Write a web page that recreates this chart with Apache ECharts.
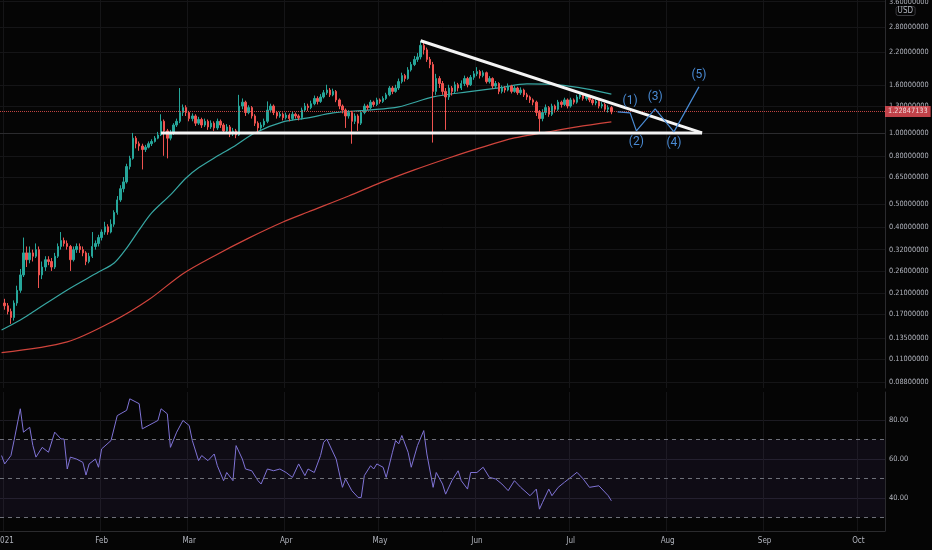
<!DOCTYPE html>
<html><head><meta charset="utf-8">
<script src="https://cdn.jsdelivr.net/npm/echarts@6/dist/echarts.min.js"></script>
<style>html,body{margin:0;padding:0;background:#050505;}#c{width:932px;height:550px;}</style>
</head><body><div id="c"></div>
<script>
// ---------- DATA ----------
const firstDay = '2020-12-31';
const dayCount = 283;
const monthLabels = ['2021','Feb','Mar','Apr','May','Jun','Jul','Aug','Sep','Oct','Nov','Dec'];
const priceTicks = [3.6,2.8,2.2,1.6,1.3,1.0,0.8,0.65,0.5,0.4,0.32,0.26,0.21,0.17,0.135,0.11,0.088];
const priceRange = [0.0829, 3.66];
const rsiTicks = [40,60,80];
const rsiLevels = [70,50,30];
const rsiRange = [23.1, 94.4];
const lastPrice = 1.22847133;
// daily candles from 2021-01-01: [open, close, low, high]
const ohlc = [
[.19,.185,.178,.198],[.185,.175,.17,.19],[.175,.165,.155,.18],[.165,.19,.16,.195],[.19,.215,.185,.225],
[.215,.25,.21,.265],[.25,.31,.245,.36],[.31,.29,.27,.33],[.29,.31,.28,.33],[.31,.30,.285,.32],
[.30,.32,.295,.34],[.32,.25,.22,.33],[.25,.27,.24,.285],[.27,.29,.26,.30],[.29,.285,.275,.30],
[.285,.27,.26,.295],[.27,.30,.265,.31],[.30,.33,.295,.34],[.33,.35,.32,.38],[.35,.34,.33,.36],
[.34,.33,.32,.35],[.33,.29,.26,.335],[.29,.32,.285,.33],[.32,.33,.31,.34],[.33,.32,.31,.34],
[.32,.31,.30,.33],[.31,.285,.275,.315],[.285,.30,.28,.31],[.30,.33,.295,.38],[.33,.34,.32,.35],
[.34,.36,.33,.37],[.36,.38,.35,.39],[.38,.40,.37,.42],[.40,.38,.37,.41],[.38,.41,.375,.43],
[.41,.46,.40,.47],[.46,.52,.45,.54],[.52,.58,.51,.60],[.58,.62,.56,.65],[.62,.72,.61,.74],
[.72,.78,.70,.80],[.78,.95,.77,1.0],[.95,.90,.86,.97],[.90,.88,.84,.92],[.88,.85,.70,.90],
[.85,.87,.83,.89],[.87,.90,.86,.92],[.90,.92,.88,.94],[.92,.95,.91,.97],[.95,.98,.94,1.01],
[.98,1.12,.97,1.20],[1.12,1.02,.80,1.14],[1.02,.95,.78,1.04],[.95,1.0,.93,1.03],[1.0,1.08,.98,1.10],
[1.08,1.12,1.06,1.15],[1.12,1.22,1.10,1.55],[1.22,1.28,1.18,1.32],[1.28,1.22,1.18,1.31],[1.22,1.15,1.12,1.24],
[1.15,1.18,1.12,1.21],[1.18,1.10,1.07,1.20],[1.10,1.14,1.08,1.17],[1.14,1.08,1.05,1.16],[1.08,1.12,1.06,1.15],
[1.12,1.06,1.03,1.14],[1.06,1.10,1.04,1.13],[1.10,1.05,1.02,1.12],[1.05,1.12,1.03,1.15],[1.12,1.08,1.05,1.14],
[1.08,1.02,1.0,1.10],[1.02,1.06,1.0,1.09],[1.06,.99,.96,1.08],[.99,1.02,.97,1.05],[1.02,.98,.95,1.04],
[.98,1.30,.97,1.45],[1.30,1.35,1.26,1.40],[1.35,1.22,1.18,1.37],[1.22,1.28,1.20,1.31],[1.28,1.18,1.15,1.30],
[1.18,1.10,1.07,1.20],[1.10,1.05,1.0,1.12],[1.05,1.08,1.03,1.11],[1.08,1.12,1.06,1.15],[1.12,1.25,1.10,1.36],
[1.25,1.30,1.22,1.33],[1.30,1.22,1.19,1.32],[1.22,1.18,1.15,1.24],[1.18,1.20,1.16,1.23],[1.20,1.16,1.13,1.22],
[1.16,1.19,1.14,1.22],[1.19,1.15,1.12,1.21],[1.15,1.20,1.13,1.23],[1.20,1.18,1.15,1.22],[1.18,1.16,1.13,1.20],
[1.16,1.25,1.14,1.28],[1.25,1.30,1.23,1.34],[1.30,1.28,1.24,1.33],[1.28,1.33,1.26,1.37],[1.33,1.40,1.31,1.44],
[1.40,1.36,1.32,1.43],[1.36,1.42,1.34,1.46],[1.42,1.48,1.40,1.52],[1.48,1.52,1.45,1.60],[1.52,1.45,1.42,1.55],
[1.45,1.50,1.43,1.54],[1.50,1.38,1.35,1.52],[1.38,1.30,1.26,1.40],[1.30,1.25,1.21,1.32],[1.25,1.18,1.05,1.27],
[1.18,1.22,1.15,1.25],[1.22,1.12,.90,1.24],[1.12,1.18,1.09,1.21],[1.18,1.10,1.02,1.20],[1.10,1.22,1.08,1.25],
[1.22,1.30,1.20,1.33],[1.30,1.28,1.25,1.32],[1.28,1.35,1.26,1.38],[1.35,1.32,1.29,1.37],[1.32,1.38,1.30,1.41],
[1.38,1.36,1.33,1.40],[1.36,1.40,1.34,1.43],[1.40,1.45,1.38,1.48],[1.45,1.55,1.43,1.58],[1.55,1.50,1.46,1.58],
[1.50,1.55,1.48,1.60],[1.55,1.65,1.52,1.70],[1.65,1.75,1.62,1.80],[1.75,1.70,1.65,1.78],[1.70,1.85,1.68,1.90],
[1.85,1.95,1.82,2.00],[1.95,2.05,1.92,2.12],[2.05,2.10,2.0,2.18],[2.10,2.35,2.05,2.45],[2.35,2.25,2.15,2.42],
[2.25,2.05,2.0,2.30],[2.05,1.95,1.88,2.10],[1.95,1.50,.91,2.0],[1.50,1.70,1.45,1.78],[1.70,1.62,1.55,1.74],
[1.62,1.50,1.45,1.66],[1.50,1.42,1.03,1.55],[1.42,1.55,1.38,1.60],[1.55,1.50,1.44,1.58],[1.50,1.60,1.47,1.65],
[1.60,1.55,1.50,1.63],[1.55,1.62,1.52,1.67],[1.62,1.70,1.58,1.75],[1.70,1.60,1.56,1.73],[1.60,1.72,1.58,1.76],
[1.72,1.78,1.68,1.83],[1.78,1.82,1.74,1.90],[1.82,1.75,1.70,1.85],[1.75,1.80,1.72,1.84],[1.80,1.65,1.62,1.82],
[1.65,1.70,1.62,1.74],[1.70,1.58,1.54,1.72],[1.58,1.62,1.55,1.66],[1.62,1.50,1.46,1.64],[1.50,1.55,1.47,1.59],
[1.55,1.52,1.48,1.58],[1.52,1.58,1.50,1.62],[1.58,1.50,1.47,1.60],[1.50,1.55,1.48,1.59],[1.55,1.48,1.45,1.57],
[1.48,1.52,1.45,1.56],[1.52,1.45,1.42,1.54],[1.45,1.42,1.38,1.48],[1.42,1.38,1.34,1.44],[1.38,1.35,1.31,1.40],
[1.35,1.22,1.18,1.37],[1.22,1.15,.99,1.25],[1.15,1.22,1.12,1.26],[1.22,1.28,1.19,1.32],[1.28,1.20,1.17,1.30],
[1.20,1.30,1.18,1.33],[1.30,1.26,1.22,1.32],[1.26,1.35,1.24,1.38],[1.35,1.32,1.28,1.37],[1.32,1.38,1.30,1.41],
[1.38,1.30,1.27,1.40],[1.30,1.38,1.28,1.41],[1.38,1.35,1.32,1.40],[1.35,1.42,1.33,1.45],[1.42,1.45,1.39,1.48],
[1.45,1.40,1.37,1.47],[1.40,1.43,1.37,1.46],[1.43,1.38,1.35,1.45],[1.38,1.34,1.31,1.40],[1.34,1.36,1.31,1.39],
[1.36,1.30,1.27,1.38],[1.30,1.32,1.27,1.35],[1.32,1.26,1.23,1.34],[1.26,1.28,1.22,1.31],[1.28,1.22847133,1.20,1.30]
];
// moving averages (day offsets from 2021-01-01)
const emaFastDays = [-1,5,9,20,30,35,39,43,47,53,58,62,67,73,80,89,97,105,116,126,137,148,158,167,177,186,194];
const emaFastVals = [0.146,0.161,0.174,0.216,0.257,0.281,0.325,0.388,0.458,0.546,0.644,0.711,0.783,0.872,1.0,1.113,1.158,1.216,1.25,1.289,1.421,1.493,1.552,1.614,1.598,1.537,1.46];
const emaSlowDays = [-1,20,35,46,57,67,78,89,97,110,120,131,142,152,163,172,183,194];
const emaSlowVals = [0.117,0.13,0.16,0.196,0.253,0.301,0.358,0.419,0.462,0.54,0.614,0.697,0.783,0.864,0.952,1.0,1.06,1.113];
// RSI
const rsiDays = [-1,0,2,3,5,6,8,9,10,12,14,16,18,19,20,21,23,25,26,27,29,30,31,34,36,39,40,43,44,49,50,52,53,55,57,59,60,62,63,65,67,68,70,71,73,74,76,77,79,81,82,84,86,88,90,92,94,96,97,99,101,102,103,106,108,109,111,113,114,115,117,118,119,121,122,124,125,126,127,129,130,132,134,135,137,138,140,141,143,145,146,148,149,151,153,155,157,159,161,163,165,168,170,171,172,174,175,177,179,181,183,185,187,190,193,194];
const rsiVals = [61.8,57.5,61.8,69.5,85.8,73.8,76.3,67,61,66,63.5,73.8,70.3,70.3,54.9,61,60,58.3,51.8,57.5,60,55.8,65.2,69.5,82.3,85,90.9,88.4,75.5,79.8,85.8,83.2,66,73.8,79.8,77.2,69.5,59.2,61.8,59.2,62.6,56.6,48.9,53.1,48.9,66.9,60,54.9,54,48.9,47.2,54.9,54,54.9,53.1,50.6,57.5,51.5,54.9,53.1,61.8,68.6,70.3,60,45.5,49.8,43.8,40.3,40.3,51.5,56.6,54.9,57.5,55.8,50.6,63.5,69.5,67.8,72.1,63.5,55.8,66.9,74.6,62.6,45.5,53.1,47.2,42,48.9,54,48.9,44.6,53.1,53.1,55.8,50.6,49.8,47.2,43.8,48.9,45.5,41.2,44.6,34.3,37.8,44.6,41.2,45.5,48.1,50.6,53.2,49.8,45.5,46.3,41.2,38.6];
// drawings
const supportDays = [50,223];
const supportVals = [1.0,1.0];
const trendDays = [133,223];
const trendVals = [2.46,1.0];
const waveDays = [196,200,202,208,214,222];
const waveVals = [1.228,1.216,1.02,1.264,1.01,1.567];
const waveLabels = ['','(1)','(2)','(3)','(4)','(5)'];

// ---------- BUILD ----------
const dates = [];
const d0 = new Date(firstDay + 'T00:00:00Z');
for (let i = 0; i < dayCount; i++) {
  const d = new Date(d0.getTime() + i * 86400000);
  dates.push(d.toISOString().slice(0, 10));
}
const cat = d => dates[d + 1];
const L = Math.log;
const isMonthStart = (i, v) => typeof v === 'string' ? v.slice(8) === '01' : !!(dates[i] && dates[i].slice(8) === '01');
const FONT = "'Liberation Sans Narrow','DejaVu Sans Condensed',Roboto,sans-serif";
const AX = '#2b2b2e', GRIDC = '#151517', TXT = '#b2b5be';
const UP = '#26a69a', DOWN = '#ef5350';
const WAVE = '#4a8bd4';
const labelPos = ['top','top','bottom','top','bottom','top'];

const candleData = ['-'].concat(ohlc.map(r => [L(r[0]), L(r[1]), L(r[2]), L(r[3])]));

const option = {
  backgroundColor: '#050505',
  animation: false,
  textStyle: { fontFamily: FONT },
  title: {
    text: 'USD', right: 17, top: 6,
    textStyle: { fontSize: 8, color: TXT, fontWeight: 'normal', fontFamily: FONT },
    borderColor: '#3a3a3e', borderWidth: 1, borderRadius: 2, padding: [1, 2]
  },
  grid: [
    { left: 0, right: 47, top: 0, height: 388, outerBoundsMode: 'none', containLabel: false },
    { left: 0, right: 47, top: 392, height: 139, outerBoundsMode: 'none', containLabel: false }
  ],
  xAxis: [0, 1].map(g => ({
    type: 'category', gridIndex: g, data: dates, boundaryGap: true,
    axisLine: { show: true, lineStyle: { color: AX } },
    axisTick: { show: false },
    axisLabel: {
      show: g === 1, interval: isMonthStart, color: TXT, fontSize: 8, margin: 6, hideOverlap: false,
      formatter: v => monthLabels[parseInt(v.slice(5, 7), 10) - 1]
    },
    splitLine: { show: true, interval: isMonthStart, lineStyle: { color: GRIDC } }
  })),
  yAxis: [
    {
      type: 'value', gridIndex: 0, position: 'right',
      min: L(priceRange[0]), max: L(priceRange[1]),
      axisLine: { show: true, lineStyle: { color: AX } },
      axisTick: { show: false, customValues: priceTicks.map(L) },
      axisLabel: {
        customValues: priceTicks.map(L), color: TXT, fontSize: 7.3, margin: 4, hideOverlap: false,
        formatter: v => Math.exp(v).toFixed(8)
      },
      splitLine: { show: true, lineStyle: { color: GRIDC } }
    },
    {
      type: 'value', gridIndex: 1, position: 'right',
      min: rsiRange[0], max: rsiRange[1],
      axisLine: { show: true, lineStyle: { color: AX } },
      axisTick: { show: false, customValues: rsiTicks },
      axisLabel: { customValues: rsiTicks, color: TXT, fontSize: 7.5, margin: 4, formatter: v => v.toFixed(2) },
      splitLine: { show: true, lineStyle: { color: '#1c1b22' } }
    }
  ],
  series: [
    {
      type: 'candlestick', xAxisIndex: 0, yAxisIndex: 0, data: candleData,
      barWidth: '62%',
      itemStyle: { color: UP, color0: DOWN, borderColor: UP, borderColor0: DOWN, borderWidth: 1 },
      markLine: {
        silent: true, symbol: 'none',
        lineStyle: { color: DOWN, type: 'dotted', width: 1, opacity: 0.8 },
        label: {
          position: 'end', distance: 0, formatter: () => lastPrice.toFixed(8),
          color: '#fff', backgroundColor: '#f0515a', padding: [2, 3], fontSize: 7.3, fontFamily: FONT
        },
        data: [{ yAxis: L(lastPrice) }]
      },
      z: 3
    },
    {
      type: 'line', xAxisIndex: 0, yAxisIndex: 0, smooth: 0.3, symbol: 'none',
      data: emaFastDays.map((d, i) => [cat(d), L(emaFastVals[i])]),
      lineStyle: { color: '#38a7a3', width: 1.2 }, z: 2
    },
    {
      type: 'line', xAxisIndex: 0, yAxisIndex: 0, smooth: 0.3, symbol: 'none',
      data: emaSlowDays.map((d, i) => [cat(d), L(emaSlowVals[i])]),
      lineStyle: { color: '#cf443c', width: 1.2 }, z: 2
    },
    {
      type: 'line', xAxisIndex: 0, yAxisIndex: 0, symbol: 'none',
      data: supportDays.map((d, i) => [cat(d), L(supportVals[i])]),
      lineStyle: { color: '#f4f4f4', width: 3 }, z: 5
    },
    {
      type: 'line', xAxisIndex: 0, yAxisIndex: 0, symbol: 'none',
      data: trendDays.map((d, i) => [cat(d), L(trendVals[i])]),
      lineStyle: { color: '#f4f4f4', width: 3 }, z: 5
    },
    {
      type: 'line', xAxisIndex: 0, yAxisIndex: 0, symbol: 'circle', symbolSize: 1, showSymbol: true,
      itemStyle: { color: 'rgba(0,0,0,0)', borderWidth: 0 },
      label: { show: true, color: WAVE, fontSize: 12, fontFamily: 'Roboto,sans-serif', distance: 5 },
      data: waveDays.map((d, i) => ({
        value: [cat(d), L(waveVals[i])],
        label: { show: waveLabels[i] !== '', formatter: waveLabels[i], position: labelPos[i],
                 color: WAVE, fontSize: 12, distance: 5 }
      })),
      lineStyle: { color: WAVE, width: 1.2 }, z: 6
    },
    {
      type: 'line', xAxisIndex: 1, yAxisIndex: 1, symbol: 'none',
      data: rsiDays.map((d, i) => [cat(d), rsiVals[i]]),
      lineStyle: { color: '#7f73d6', width: 1 },
      markArea: { silent: true, itemStyle: { color: 'rgba(126,87,194,0.09)' },
        data: [[{ yAxis: rsiLevels[2] }, { yAxis: rsiLevels[0] }]] },
      markLine: { silent: true, symbol: 'none', label: { show: false },
        lineStyle: { color: '#6e7079', type: [4, 4], width: 1 },
        data: rsiLevels.map(v => ({ yAxis: v })) }
    }
  ]
};
const chart = echarts.init(document.getElementById('c'), null, { renderer: 'canvas' });
chart.setOption(option);
</script></body></html>
